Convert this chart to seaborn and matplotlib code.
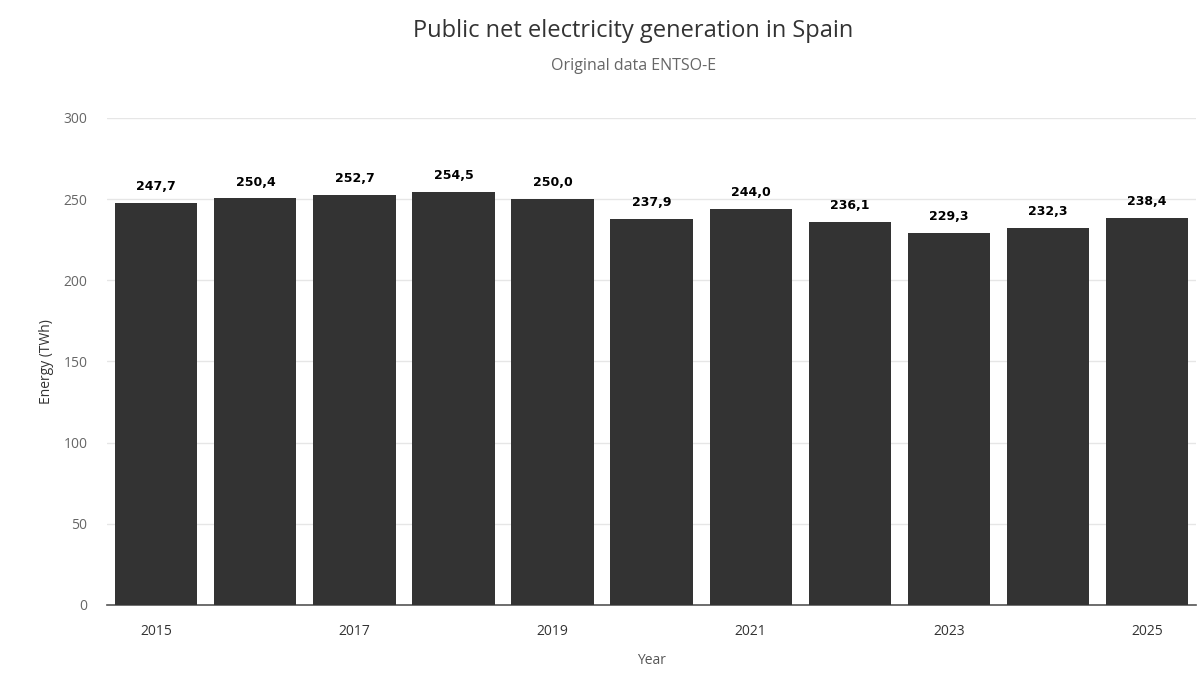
import pandas as pd
import seaborn as sns
import matplotlib.pyplot as plt

# Data
years = [2015, 2016, 2017, 2018, 2019, 2020, 2021, 2022, 2023, 2024, 2025]
energy_twh = [247.7, 250.4, 252.7, 254.5, 250.0, 237.9, 244.0, 236.1, 229.3, 232.3, 238.4]
y_ticks = [0, 50, 100, 150, 200, 250, 300]


def main():
    df = pd.DataFrame({"Year": [str(y) for y in years], "Energy": energy_twh})

    sns.set_style("white")
    plt.rcParams['font.family'] = ['Open Sans', 'DejaVu Sans']

    fig = plt.figure(figsize=(12, 6.82), dpi=100)
    ax = fig.add_axes([0.089, 0.113, 0.908, 0.714])

    sns.barplot(data=df, x="Year", y="Energy", color="#333333", width=0.83,
                saturation=1, linewidth=0, ax=ax, zorder=3)

    # value labels with comma decimal
    for i, v in enumerate(df["Energy"]):
        ax.text(i, v + 6, "{:.1f}".format(v).replace(".", ","), ha="center", va="bottom",
                fontsize=9, fontweight="bold", color="#000000", family="DejaVu Sans", zorder=4)

    ax.set_ylim(0, 300)
    ax.set_xlim(-0.5, 10.5)
    ax.set_yticks(y_ticks)
    ax.set_yticklabels([str(t) for t in y_ticks], fontsize=10, color="#666666")
    ax.yaxis.grid(True, color="#e6e6e6", linewidth=1, zorder=0)

    shown = [i for i, y in enumerate(years) if y % 2 == 1]
    ax.set_xticks(shown)
    ax.set_xticklabels([str(years[i]) for i in shown], fontsize=10, color="#333333")
    ax.tick_params(axis="x", length=0, pad=14)
    ax.tick_params(axis="y", length=0, pad=14)

    for side in ["top", "right", "left"]:
        ax.spines[side].set_visible(False)
    ax.spines["bottom"].set_color("#555555")
    ax.spines["bottom"].set_linewidth(1.2)

    ax.set_xlabel("Year", fontsize=10, color="#555555", labelpad=10)
    ax.set_ylabel("Energy (TWh)", fontsize=10, color="#333333", labelpad=7)

    fig.text(0.528, 0.955, "Public net electricity generation in Spain", ha="center", va="center",
             fontsize=17, color="#333333")
    fig.text(0.528, 0.903, "Original data ENTSO-E", ha="center", va="center",
             fontsize=11.5, color="#666666")

    fig.savefig("out.png", dpi=100)


if __name__ == "__main__":
    main()
